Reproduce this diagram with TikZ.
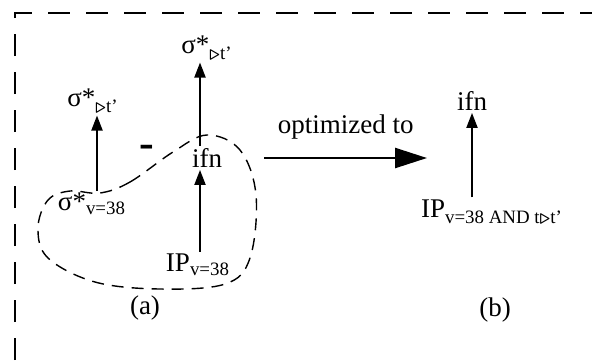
\documentclass[tikz,border=0pt]{standalone}
\usepackage{fontspec}
\setmainfont{Liberation Serif}
\usetikzlibrary{arrows.meta, positioning, calc}
\tikzset{
    lbl/.style={inner sep=1pt, font=\fontsize{13.5}{15}\selectfont},
    uparrow/.style={-{Triangle[length=7.5pt, width=5.5pt]}, line width=1pt},
    bigarrow/.style={-{Triangle[length=16pt, width=10pt]}, line width=1.2pt},
    blob/.style={dash pattern=on 6pt off 4pt, line width=0.7pt},
    frame/.style={dash pattern=on 11pt off 8pt, line width=0.8pt},
}
\newcommand{\sigsel}[1]{σ*\textsubscript{#1}}
\newcommand{\tri}{{\boldmath$\triangleright$}}

\begin{document}
\begin{tikzpicture}[x=0.5pt, y=-0.5pt]
    \useasboundingbox (0,0) rectangle (592,360);
    \draw[frame] (15,360) -- (15,13) -- (592,13);
    % (a): plan before optimization
    \node[lbl] (ifnA) at (207,158) {ifn};
    \node[lbl] (topA) at (207,48) {\sigsel{\tri t'}};
    \node[lbl] (ipA) at (198,265) {IP\textsubscript{v=38}};
    \node[lbl] (lsigA) at (93,101) {\sigsel{\tri t'}};
    \node[lbl] (vsigA) at (92,204) {\sigsel{v=38}};
    \node[lbl, font=\fontsize{22}{22}\selectfont\bfseries] (minus) at (147,151) {-};
    \node[lbl] (capA) at (145,308) {(a)};
    \draw[uparrow] ([xshift=1pt]ipA.north) -- ([xshift=-3.5pt]ifnA.south);
    \draw[uparrow] ([xshift=-3.5pt]ifnA.north) -- ([xshift=-3.5pt]topA.south);
    \draw[uparrow] ([xshift=2.5pt]vsigA.north) -- ([xshift=2pt]lsigA.south);
    % the group that gets merged
    \draw[blob] plot[smooth cycle, tension=0.6] coordinates {
        (100,193) (130,182) (173,152) (207,135) (240,150) (256,195)
        (250,258) (225,284) (160,289) (95,282) (48,258) (38,228)
        (48,200) (70,191)};
    % rewrite arrow
    \coordinate (optEnd) at (427,158);
    \draw[bigarrow] ([xshift=20pt]ifnA.east) -- (optEnd)
        node[lbl, midway, above=8pt] (optLbl) {optimized to};
    % (b): plan after optimization
    \node[lbl] (ifnB) at (472,101) {ifn};
    \node[lbl] (ipB) at (492,212) {IP\textsubscript{v=38 AND t\tri t'}};
    \node[lbl] (capB) at (495,310) {(b)};
    \draw[uparrow] ([xshift=-10pt]ipB.north) -- (ifnB.south);
\end{tikzpicture}
\end{document}
